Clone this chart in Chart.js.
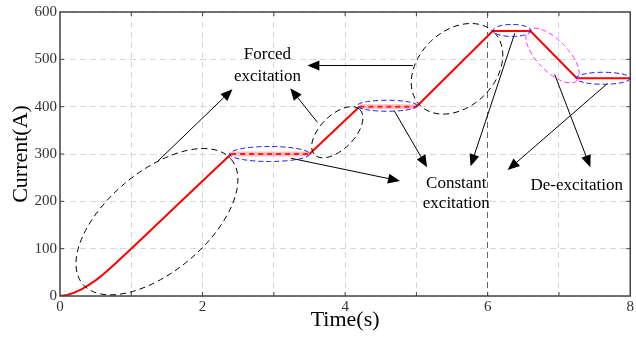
<!DOCTYPE html>
<html lang="en">
<head>
<meta charset="UTF-8">
<title>Excitation current</title>
<script src="https://cdn.jsdelivr.net/npm/chart.js"></script>
<style>
  html, body { margin: 0; padding: 0; background: #fff; }
  #wrap { width: 636px; height: 338px; position: relative; }
</style>
</head>
<body>
<div id="wrap"><canvas id="chart"></canvas></div>
<script>
// excitation current trace
const time    = [0, 0.1, 0.2, 0.3, 0.4, 0.5, 0.6, 0.7, 0.8, 0.9, 1.0, 1.7, 2.4, 3.5, 4.2, 5.0, 6.07, 6.6, 7.25, 8];
const current = [0, 2, 7, 14, 23, 33, 45, 58, 72, 86, 100, 200, 300, 300, 400, 400, 560, 560, 460, 460];

// pale band under the two dashed flats
const bandTime    = [2.4, 3.5, 3.8, 4.2, 5.0];
const bandCurrent = [300, 300, null, 400, 400];
const dashedLevels = [300, 400];

const xTickLabels = [0, 2, 4, 6, 8];
const yTickLabels = [0, 100, 200, 300, 400, 500, 600];

// annotations: centres in data units, radii in px
const ellipses = [
  { x: 1.36, y: 157, rx: 97, ry: 50, rot: -40, color: '#000' },
  { x: 2.94, y: 300, rx: 40, ry: 7.5, rot: 0, color: '#1a1aff' },
  { x: 3.89, y: 346, rx: 32, ry: 17, rot: -45, color: '#000' },
  { x: 4.59, y: 402, rx: 30, ry: 5.5, rot: 0, color: '#1a1aff' },
  { x: 5.57, y: 480, rx: 52, ry: 38, rot: -44, color: '#000' },
  { x: 6.34, y: 561, rx: 19, ry: 6, rot: 0, color: '#1a1aff' },
  { x: 6.91, y: 508, rx: 35, ry: 15.5, rot: 46, color: '#ff33ff' },
  { x: 7.62, y: 460, rx: 27, ry: 6, rot: 0, color: '#1a1aff' }
];
const arrows = [
  [1.36, 283, 2.42, 437],
  [3.61, 367, 3.23, 439],
  [4.95, 487, 3.47, 487],
  [3.24, 291, 4.77, 243],
  [4.69, 391, 5.15, 272],
  [6.38, 555, 5.76, 274],
  [7.68, 449, 6.28, 266],
  [6.94, 468, 7.44, 272]
];
const notes = [
  { text: 'Forced', x: 2.91, y: 511 },
  { text: 'excitation', x: 2.91, y: 464 },
  { text: 'Constant', x: 5.56, y: 238 },
  { text: 'excitation', x: 5.56, y: 196 },
  { text: 'De-excitation', x: 7.25, y: 234 }
];

const serif = '"Liberation Serif", "Times New Roman", serif';

const annotate = {
  id: 'annotate',
  afterDatasetsDraw(chart) {
    const { ctx, chartArea: a, scales: { x, y } } = chart;
    ctx.save();

    // frame + inward ticks
    ctx.strokeStyle = '#444';
    ctx.lineWidth = 1.5;
    ctx.strokeRect(a.left, a.top, a.right - a.left, a.bottom - a.top);
    ctx.lineWidth = 1;
    for (let v = 1; v < 8; v++) {
      const px = x.getPixelForValue(v);
      ctx.beginPath();
      ctx.moveTo(px, a.bottom); ctx.lineTo(px, a.bottom - 4);
      ctx.moveTo(px, a.top); ctx.lineTo(px, a.top + 4);
      ctx.stroke();
    }
    for (let v = 100; v < 600; v += 100) {
      const py = y.getPixelForValue(v);
      ctx.beginPath();
      ctx.moveTo(a.left, py); ctx.lineTo(a.left + 4, py);
      ctx.moveTo(a.right, py); ctx.lineTo(a.right - 4, py);
      ctx.stroke();
    }

    // ellipses
    ctx.lineWidth = 1;
    ellipses.forEach(e => {
      ctx.strokeStyle = e.color;
      ctx.setLineDash(e.color === '#000' ? [6, 4] : [5, 3]);
      ctx.beginPath();
      ctx.ellipse(x.getPixelForValue(e.x), y.getPixelForValue(e.y), e.rx, e.ry, e.rot * Math.PI / 180, 0, Math.PI * 2);
      ctx.stroke();
    });
    ctx.setLineDash([]);

    // arrows
    ctx.strokeStyle = '#000';
    ctx.fillStyle = '#000';
    arrows.forEach(([x0, y0, x1, y1]) => {
      const ax = x.getPixelForValue(x0), ay = y.getPixelForValue(y0);
      const bx = x.getPixelForValue(x1), by = y.getPixelForValue(y1);
      const ang = Math.atan2(by - ay, bx - ax);
      const len = 12, half = 5;
      ctx.beginPath();
      ctx.moveTo(ax, ay);
      ctx.lineTo(bx - len * Math.cos(ang), by - len * Math.sin(ang));
      ctx.stroke();
      ctx.beginPath();
      ctx.moveTo(bx, by);
      ctx.lineTo(bx - len * Math.cos(ang) + half * Math.sin(ang), by - len * Math.sin(ang) - half * Math.cos(ang));
      ctx.lineTo(bx - len * Math.cos(ang) - half * Math.sin(ang), by - len * Math.sin(ang) + half * Math.cos(ang));
      ctx.closePath();
      ctx.fill();
    });

    // labels
    ctx.font = '17px ' + serif;
    ctx.textAlign = 'center';
    ctx.textBaseline = 'middle';
    notes.forEach(n => ctx.fillText(n.text, x.getPixelForValue(n.x), y.getPixelForValue(n.y)));
    ctx.restore();
  }
};

new Chart(document.getElementById('chart'), {
  type: 'line',
  data: {
    datasets: [
      {
        data: bandTime.map((t, i) => ({ x: t, y: bandCurrent[i] })),
        borderColor: 'rgba(255, 80, 80, 0.35)',
        borderWidth: 5,
        pointRadius: 0,
        spanGaps: false
      },
      {
        data: time.map((t, i) => ({ x: t, y: current[i] })),
        borderColor: '#ff0000',
        borderWidth: 2,
        pointRadius: 0,
        segment: {
          borderDash: ctx => (ctx.p0.parsed.y === ctx.p1.parsed.y && dashedLevels.includes(ctx.p0.parsed.y)) ? [5, 4] : undefined
        }
      }
    ]
  },
  options: {
    responsive: true,
    maintainAspectRatio: false,
    animation: false,
    layout: { padding: { left: 0, right: 4, top: 12, bottom: 0 } },
    plugins: { legend: { display: false }, tooltip: { enabled: false } },
    scales: {
      x: {
        type: 'linear',
        min: 0, max: 8,
        afterFit: s => { s.height = 42; },
        border: { display: false, dash: [6, 4] },
        grid: {
          drawTicks: false,
          color: c => c.tick && c.tick.value === 6 ? '#666' : '#d6d6d6',
          lineWidth: 1
        },
        ticks: {
          stepSize: 1,
          padding: 2,
          color: '#333',
          font: { family: serif, size: 15 },
          callback: v => xTickLabels.includes(v) ? String(v) : ''
        },
        title: {
          display: true, text: 'Time(s)', color: '#000',
          font: { family: serif, size: 22, lineHeight: 1 },
          padding: { top: 0, bottom: 7 }
        }
      },
      y: {
        min: 0, max: 600,
        afterFit: s => { s.width = 60; },
        border: { display: false, dash: [6, 4] },
        grid: { drawTicks: false, color: '#d6d6d6', lineWidth: 1 },
        ticks: {
          stepSize: 100,
          padding: 3,
          color: '#333',
          font: { family: serif, size: 15 },
          callback: v => yTickLabels.includes(v) ? String(v) : ''
        },
        title: {
          display: true, text: 'Current(A)', color: '#000',
          font: { family: serif, size: 22, lineHeight: 1 },
          padding: { top: 10, bottom: 0 }
        }
      }
    }
  },
  plugins: [annotate]
});
</script>
</body>
</html>
